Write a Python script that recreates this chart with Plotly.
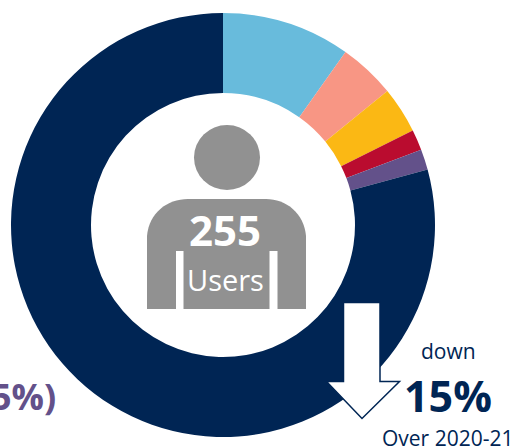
import plotly.graph_objects as go

W, H = 513, 448

# Data
categories = ["Group A", "Group B", "Group C", "Group D", "Group E", "Group F"]
users = [25, 11, 9, 4, 4, 202]
colors = ["#68BBDC", "#F89684", "#FBB814", "#BA0C2F", "#63518A", "#002554"]
total_label = "255"
unit_label = "Users"
side_label = "5%)"
change_top = "down"
change_value = "15%"
change_note = "Over 2020-21"

NAVY = "#002554"
GRAY = "#919191"
PURPLE = "#63518A"
FONT = "Open Sans"


def px(x):
    return x / W


def py(y):
    return 1 - y / H


def path(cmds):
    out = []
    for c in cmds:
        letter, pts = c[0], c[1:]
        out.append(letter + " ".join(f"{px(x):.5f},{py(y):.5f}" for x, y in pts))
    return " ".join(out)


body = path([
    ("M", (147, 309)), ("L", (147, 236)),
    ("C", (149, 213), (167, 199), (188, 199)),
    ("L", (266, 199)),
    ("C", (286, 199), (304, 213), (306, 236)),
    ("L", (306, 309)), ("Z",),
])
arrow = path([
    ("M", (343.5, 302.5)), ("L", (380, 302.5)), ("L", (380, 381.5)), ("L", (399.5, 381.5)),
    ("L", (362, 418.5)), ("L", (326.5, 381.5)), ("L", (343.5, 381.5)), ("Z",),
])

shapes = [
    dict(type="circle", xref="paper", yref="paper", x0=px(194), x1=px(260), y0=py(190), y1=py(125),
         fillcolor=GRAY, line_width=0),
    dict(type="path", xref="paper", yref="paper", path=body, fillcolor=GRAY, line_width=0),
    dict(type="rect", xref="paper", yref="paper", x0=px(176), x1=px(183.5), y0=py(310), y1=py(251),
         fillcolor="white", line_width=0),
    dict(type="rect", xref="paper", yref="paper", x0=px(269.5), x1=px(277.5), y0=py(310), y1=py(251),
         fillcolor="white", line_width=0),
    dict(type="path", xref="paper", yref="paper", path=arrow, fillcolor="white",
         line=dict(color=NAVY, width=1.5)),
]


def note(text, x, y, size, color, bold=False, anchor="center"):
    return dict(text=f"<b>{text}</b>" if bold else text, x=px(x), y=py(y), xref="paper", yref="paper",
                xanchor=anchor, yanchor="middle", showarrow=False,
                font=dict(family=FONT, size=size, color=color))


annotations = [
    note(total_label, 225, 230, 42, "white", bold=True),
    note(unit_label, 225, 279, 29, "white"),
    note(side_label, 58, 396, 36, PURPLE, bold=True, anchor="right"),
    note(change_top, 448, 351, 21, NAVY),
    note(change_value, 448, 395, 43, NAVY, bold=True),
    note(change_note, 447, 438, 21, NAVY),
]

fig = go.Figure(go.Pie(
    labels=categories, values=users, sort=False, direction="clockwise", rotation=0,
    hole=132 / 212, textinfo="none", hoverinfo="label+value", showlegend=False,
    marker=dict(colors=colors, line=dict(width=0)),
    domain=dict(x=[px(11), px(435)], y=[py(437), py(13)]),
))
fig.update_layout(width=W, height=H, margin=dict(l=0, r=0, t=0, b=0), paper_bgcolor="white",
                  plot_bgcolor="white", shapes=shapes, annotations=annotations,
                  font=dict(family=FONT))
fig.write_html("out.html", config=dict(displayModeBar=False),
               post_script="document.body.style.margin='0';document.body.style.overflow='hidden';")
